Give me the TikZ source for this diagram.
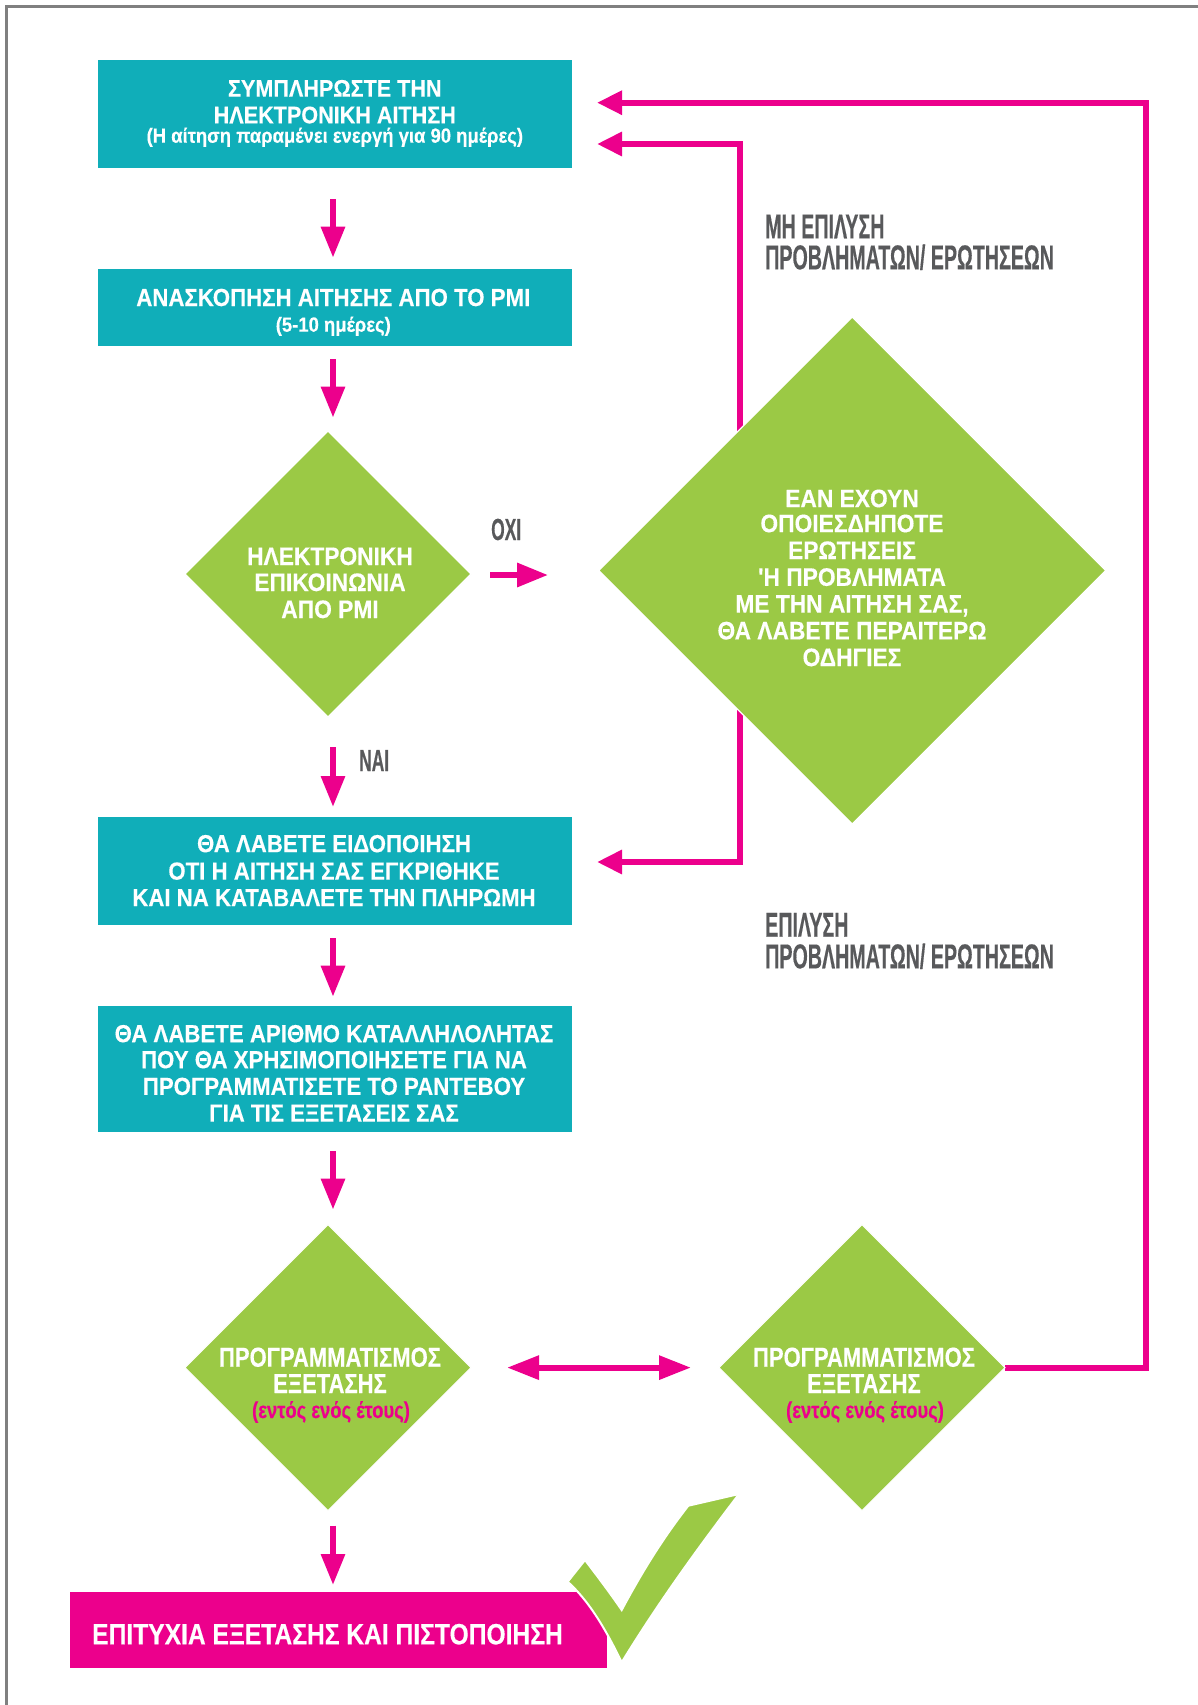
\documentclass[tikz,border=0pt]{standalone}
\usepackage{fontspec}
\newfontfamily\fA[FakeStretch=0.9,FakeBold=0.3]{Liberation Sans}
\newfontfamily\fB[FakeStretch=0.8,FakeBold=0.3]{Liberation Sans}
\newfontfamily\fD[FakeStretch=0.84,FakeBold=0.3]{Liberation Sans}
\newfontfamily\fC[FakeStretch=0.57,FakeBold=0.3]{Liberation Sans}
\usetikzlibrary{arrows.meta,shapes.geometric,calc}
\pgfdeclarelayer{bg}
\pgfsetlayers{bg,main}
\definecolor{cTeal}{RGB}{16,174,185}
\definecolor{cGreen}{RGB}{155,201,69}
\definecolor{cMag}{RGB}{236,0,140}
\definecolor{cGrayT}{RGB}{88,89,91}
\definecolor{cFrame}{RGB}{128,128,128}
\begin{document}
\begin{tikzpicture}[x=1pt,y=-1pt,
  box/.style={rectangle, fill=cTeal, inner sep=0pt, outer sep=0pt, minimum width=474.4pt},
  dia/.style={diamond, fill=cGreen, draw=white, line width=1.2pt, inner sep=0pt, outer sep=0pt},
  arr/.style={draw=cMag, line width=6pt, line join=miter, -{Triangle[length=31pt,width=23pt]}},
  arrL/.style={draw=cMag, line width=6pt, line join=miter, -{Triangle[length=25pt,width=23pt]}},
  arrD/.style={draw=cMag, line width=6pt, {Triangle[length=32pt,width=23pt]}-{Triangle[length=32pt,width=23pt]}},
  wl/.style={text=white, inner sep=0pt, anchor=base},
  gl/.style={text=cGrayT, inner sep=0pt, anchor=base west, text height=25pt, text depth=1pt},
  fbig/.style={font=\fA\bfseries\fontsize{24.7pt}{28pt}\selectfont},
  fone/.style={font=\fA\bfseries\fontsize{24pt}{27pt}\selectfont},
  fsmall/.style={font=\fA\bfseries\fontsize{20.5pt}{22pt}\selectfont},
  fdia/.style={font=\fA\bfseries\fontsize{25.3pt}{28pt}\selectfont},
  fdiab/.style={font=\fB\bfseries\fontsize{27.5pt}{30pt}\selectfont},
  fdias/.style={font=\fB\bfseries\fontsize{23pt}{25pt}\selectfont},
  fend/.style={font=\fD\bfseries\fontsize{29.3pt}{32pt}\selectfont},
  fgray/.style={font=\fC\bfseries\fontsize{34.5pt}{36pt}\selectfont},
  fgrays/.style={font=\fC\bfseries\fontsize{30.5pt}{34pt}\selectfont}
]
\useasboundingbox (0,0) rectangle (1198,1705);

% boxes
\node[box, minimum height=108.3pt] (b1) at (334.8,114.15) {};
\node[box, minimum height=76.7pt] (b2) at (334.8,307.65) {};
\node[box, minimum height=108pt] (b3) at (334.8,871) {};
\node[box, minimum height=126pt] (b4) at (334.8,1069) {};
\node[rectangle, fill=cMag, inner sep=0pt, outer sep=0pt, minimum width=536.7pt, minimum height=76.6pt] (b5) at (338.35,1630) {};

% diamonds
\node[dia, minimum width=286pt, minimum height=286pt] (d1) at (328,574) {};
\node[dia, minimum width=507pt, minimum height=507pt] (d2) at (852.2,570.5) {};
\node[dia, minimum width=286pt, minimum height=286pt] (d3) at (328,1367.6) {};
\node[dia, minimum width=286pt, minimum height=286pt] (d4) at (862,1367.6) {};

% helper coordinates
\coordinate (ax) at (333,0);
\coordinate (j) at (740,570.5);
\coordinate (cR) at (1146,102.7);

% background, frame and connectors
\begin{pgfonlayer}{bg}
\fill[white] (0,0) rectangle (1198,1705);
\draw[cFrame, line width=3pt, line join=miter] (6.9,1705) -- (6.9,6.5) -- (1198,6.5);
\draw[arr, shorten <=31pt, shorten >=11.6pt] (b1.south -| ax) -- (b2.north -| ax);
\draw[arr, shorten <=13.3pt, shorten >=13.4pt] (b2.south -| ax) -- (d1.north -| ax);
\draw[arr, shorten <=30.3pt, shorten >=10pt] (d1.south -| ax) -- (b3.north -| ax);
\draw[arr, shorten <=13pt, shorten >=9.3pt] (b3.south -| ax) -- (b4.north -| ax);
\draw[arr, shorten <=19pt, shorten >=15pt] (b4.south -| ax) -- (d3.north -| ax);
\draw[arr, shorten <=15pt, shorten >=6.7pt] (d3.south -| ax) -- (b5.north -| ax);
\draw[arr, shorten <=19pt, shorten >=50.6pt] ($(d1.east)+(0,1)$) -- ($(d1.east -| d2.west)+(0,1)$);
\draw[arrD, shorten <=36pt, shorten >=28pt] (d3.east) -- (d4.west);
\draw[arrL] (j) |- ($(b1.east)+(25,29.85)$);
\draw[arrL] (j) |- ($(b3.east)+(25,-9)$);
\draw[arrL] (d4.east) -| (cR) -- ($(b1.east)+(25,-11.45)$);
\end{pgfonlayer}

% check mark
\fill[cGreen, draw=white, line width=2pt, line join=miter] (585,1560) .. controls (598,1577) and (610,1593) .. (621.7,1610) .. controls (642,1572) and (663,1538) .. (688.3,1505.7) -- (739,1494) .. controls (698,1548) and (660,1600) .. (621.7,1662.3) .. controls (606,1630) and (590,1602) .. (567.7,1581.7) -- cycle;

% box texts
\node[wl, fone] (t11) at (334.8,96.7) {ΣΥΜΠΛΗΡΩΣΤΕ ΤΗΝ};
\node[wl, fone] (t12) at (334.8,123.3) {ΗΛΕΚΤΡΟΝΙΚΗ ΑΙΤΗΣΗ};
\node[wl, fsmall] (t13) at (334.8,142.7) {(Η αίτηση παραμένει ενεργή για 90 ημέρες)};
\node[wl, fbig] (t21) at (333.3,306) {ΑΝΑΣΚΟΠΗΣΗ ΑΙΤΗΣΗΣ ΑΠΟ ΤΟ ΡΜΙ};
\node[wl, fsmall] (t22) at (333.3,331.7) {(5-10 ημέρες)};
\node[wl, fbig] (t31) at (334,852.2) {ΘΑ ΛΑΒΕΤΕ ΕΙΔΟΠΟΙΗΣΗ};
\node[wl, fbig] (t32) at (334,879.6) {ΟΤΙ Η ΑΙΤΗΣΗ ΣΑΣ ΕΓΚΡΙΘΗΚΕ};
\node[wl, fbig] (t33) at (334,906.2) {ΚΑΙ ΝΑ ΚΑΤΑΒΑΛΕΤΕ ΤΗΝ ΠΛΗΡΩΜΗ};
\node[wl, fbig] (t41) at (334,1042.2) {ΘΑ ΛΑΒΕΤΕ ΑΡΙΘΜΟ ΚΑΤΑΛΛΗΛΟΛΗΤΑΣ};
\node[wl, fbig] (t42) at (334,1068.2) {ΠΟΥ ΘΑ ΧΡΗΣΙΜΟΠΟΙΗΣΕΤΕ ΓΙΑ ΝΑ};
\node[wl, fbig] (t43) at (334,1094.9) {ΠΡΟΓΡΑΜΜΑΤΙΣΕΤΕ ΤΟ ΡΑΝΤΕΒΟΥ};
\node[wl, fbig] (t44) at (334,1121.6) {ΓΙΑ ΤΙΣ ΕΞΕΤΑΣΕΙΣ ΣΑΣ};

% diamond texts
\node[wl, fdia] (u11) at (330,565) {ΗΛΕΚΤΡΟΝΙΚΗ};
\node[wl, fdia] (u12) at (330,591) {ΕΠΙΚΟΙΝΩΝΙΑ};
\node[wl, fdia] (u13) at (330,618) {ΑΠΟ ΡΜΙ};
\node[wl, fdia] (u21) at (852,507.2) {ΕΑΝ ΕΧΟΥΝ};
\node[wl, fdia] (u22) at (852,532.2) {ΟΠΟΙΕΣΔΗΠΟΤΕ};
\node[wl, fdia] (u23) at (852,559) {ΕΡΩΤΗΣΕΙΣ};
\node[wl, fdia] (u24) at (852,585.8) {'Η ΠΡΟΒΛΗΜΑΤΑ};
\node[wl, fdia] (u25) at (852,612.6) {ΜΕ ΤΗΝ ΑΙΤΗΣΗ ΣΑΣ,};
\node[wl, fdia] (u26) at (852,639.4) {ΘΑ ΛΑΒΕΤΕ ΠΕΡΑΙΤΕΡΩ};
\node[wl, fdia] (u27) at (852,666.1) {ΟΔΗΓΙΕΣ};
\node[wl, fdiab] (u31) at (330,1366.7) {ΠΡΟΓΡΑΜΜΑΤΙΣΜΟΣ};
\node[wl, fdiab] (u32) at (330,1393) {ΕΞΕΤΑΣΗΣ};
\node[wl, fdias, text=cMag] (u33) at (331,1418) {(εντός ενός έτους)};
\node[wl, fdiab] (u41) at (864,1366.7) {ΠΡΟΓΡΑΜΜΑΤΙΣΜΟΣ};
\node[wl, fdiab] (u42) at (864,1393) {ΕΞΕΤΑΣΗΣ};
\node[wl, fdias, text=cMag] (u43) at (865,1418) {(εντός ενός έτους)};

% final box text
\node[wl, fend, anchor=base west] (t51) at (92,1644.3) {ΕΠΙΤΥΧΙΑ ΕΞΕΤΑΣΗΣ ΚΑΙ ΠΙΣΤΟΠΟΙΗΣΗ};

% gray labels
\node[gl, fgray] (g11) at (765,238.3) {ΜΗ ΕΠΙΛΥΣΗ};
\node[gl, fgray] (g12) at (765,269.3) {ΠΡΟΒΛΗΜΑΤΩΝ/ ΕΡΩΤΗΣΕΩΝ};
\node[gl, fgray] (g21) at (765,936.7) {ΕΠΙΛΥΣΗ};
\node[gl, fgray] (g22) at (765,968.3) {ΠΡΟΒΛΗΜΑΤΩΝ/ ΕΡΩΤΗΣΕΩΝ};
\node[gl, fgrays] (g31) at (491,540) {ΟΧΙ};
\node[gl, fgrays] (g41) at (359,771) {ΝΑΙ};
\end{tikzpicture}
\end{document}
